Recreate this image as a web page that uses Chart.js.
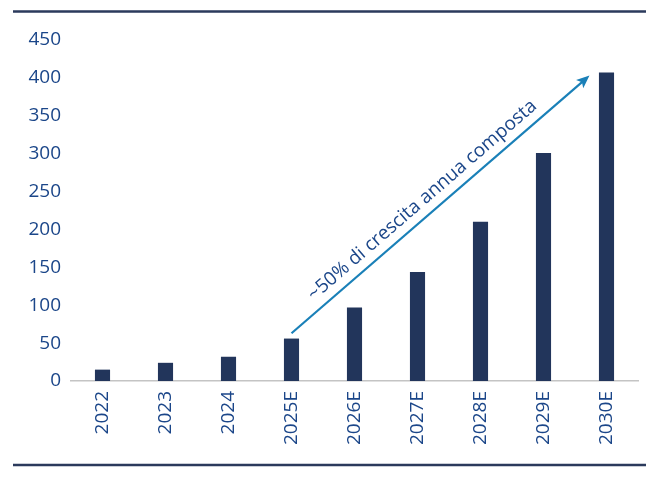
<!DOCTYPE html>
<html>
<head>
<meta charset="utf-8">
<script src="https://cdn.jsdelivr.net/npm/chart.js@4.4.1/dist/chart.umd.min.js"></script>
<style>
  html, body { margin: 0; padding: 0; background: #ffffff; }
  #wrap { width: 664px; height: 482px; position: relative; }
</style>
</head>
<body>
<div id="wrap"><canvas id="growthChart"></canvas></div>
<script>
// data
const years = ["2022", "2023", "2024", "2025E", "2026E", "2027E", "2028E", "2029E", "2030E"];
const values = [15, 24, 32, 56, 97, 144, 210, 301, 407];
const yTicks = [0, 50, 100, 150, 200, 250, 300, 350, 400, 450];

// arrow annotation: [category index, value]
const arrowFrom = [3, 63];
const arrowTo = [7.73, 403];
const arrowLabel = "~50% di crescita annua composta";

const textBlue = "#1b4689";

// top / bottom rules of the figure
const rulesPlugin = {
    id: "rules",
    afterDraw(chart) {
        const ctx = chart.ctx;
        ctx.save();
        ctx.strokeStyle = "#2b3a5c";
        ctx.lineWidth = 2.5;
        ctx.beginPath();
        ctx.moveTo(13, 11.5);
        ctx.lineTo(646, 11.5);
        ctx.moveTo(13, 465);
        ctx.lineTo(646, 465);
        ctx.stroke();
        ctx.restore();
    }
};

// growth arrow with its label
const arrowPlugin = {
    id: "growthArrow",
    afterDatasetsDraw(chart) {
        const x = chart.scales.x, y = chart.scales.y;
        const x0 = x.getPixelForValue(arrowFrom[0]), y0 = y.getPixelForValue(arrowFrom[1]);
        const x1 = x.getPixelForValue(arrowTo[0]), y1 = y.getPixelForValue(arrowTo[1]);
        const ang = Math.atan2(y1 - y0, x1 - x0);
        const ctx = chart.ctx;
        ctx.save();
        ctx.strokeStyle = "#1a80b8";
        ctx.fillStyle = "#1a80b8";
        ctx.lineWidth = 2.2;
        ctx.beginPath();
        ctx.moveTo(x0, y0);
        ctx.lineTo(x1 - 8 * Math.cos(ang), y1 - 8 * Math.sin(ang));
        ctx.stroke();
        // head
        ctx.translate(x1, y1);
        ctx.rotate(ang);
        ctx.beginPath();
        ctx.moveTo(0, 0);
        ctx.lineTo(-13, -5.5);
        ctx.lineTo(-10, 0);
        ctx.lineTo(-13, 5.5);
        ctx.closePath();
        ctx.fill();
        ctx.restore();

        // label
        ctx.save();
        const mx = (x0 + x1) / 2, my = (y0 + y1) / 2;
        ctx.translate(mx, my);
        ctx.rotate(ang);
        ctx.fillStyle = textBlue;
        ctx.font = "19px 'Open Sans'";
        ctx.textAlign = "center";
        ctx.textBaseline = "middle";
        ctx.fillText(arrowLabel, -11, -15);
        ctx.restore();
    }
};

new Chart(document.getElementById("growthChart"), {
    type: "bar",
    data: {
        labels: years,
        datasets: [{
            data: values,
            backgroundColor: "#22355b",
            borderWidth: 0,
            categoryPercentage: 1,
            barPercentage: 0.24
        }]
    },
    options: {
        responsive: true,
        maintainAspectRatio: false,
        animation: false,
        layout: { padding: { top: 40, right: 26, bottom: 0, left: 0 } },
        plugins: {
            legend: { display: false },
            tooltip: { enabled: false }
        },
        scales: {
            x: {
                grid: { display: false, drawTicks: false },
                border: { display: true, color: "#c4c4c4", width: 1.5 },
                ticks: {
                    color: textBlue,
                    font: { family: "'Open Sans'", size: 19 },
                    maxRotation: 90,
                    minRotation: 90,
                    padding: 10,
                    autoSkip: false
                },
                afterFit(scale) { scale.height = 101; }
            },
            y: {
                min: 0,
                max: 450,
                grid: { display: false, drawTicks: false },
                border: { display: false },
                afterBuildTicks(scale) {
                    scale.ticks = yTicks.map(v => ({ value: v }));
                },
                ticks: {
                    color: textBlue,
                    font: { family: "'Open Sans'", size: 19 },
                    padding: 10
                },
                afterFit(scale) { scale.width = 71; }
            }
        }
    },
    plugins: [rulesPlugin, arrowPlugin]
});
</script>
</body>
</html>
